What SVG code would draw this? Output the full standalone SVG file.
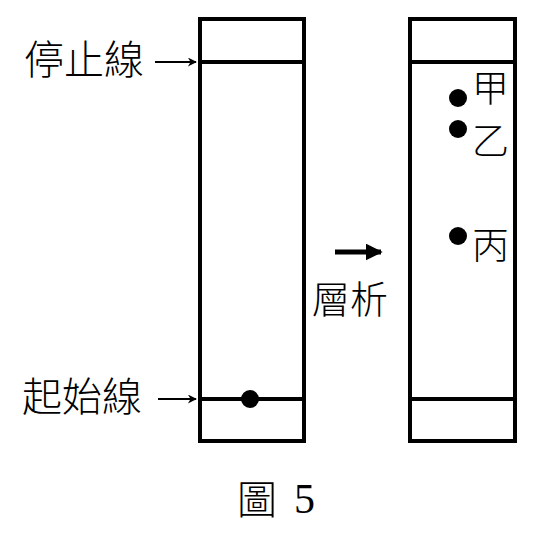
<svg xmlns="http://www.w3.org/2000/svg" width="550" height="539" viewBox="0 0 550 539">
<defs>
<style>
.box{fill:none;stroke:#000;stroke-width:4;stroke-linejoin:miter}
.ln{stroke:#000;stroke-width:4}
.lbl{font-family:"Noto Sans CJK TC","Noto Sans CJK SC",sans-serif;font-weight:300;fill:#000}
.num{font-family:"Liberation Serif","Times New Roman",serif;fill:#000}
.arr{stroke:#000;stroke-width:2;fill:none}
.dot{fill:#000}
</style>
<marker id="ah" viewBox="0 0 10 10" refX="9" refY="5" markerWidth="10" markerHeight="9" markerUnits="userSpaceOnUse" orient="auto">
<path d="M0,0 L10,5 L0,10 L3,5 Z" fill="#000"/>
</marker>
<marker id="ahBig" viewBox="0 0 10 10" refX="9" refY="5" markerWidth="3.4" markerHeight="3.4" orient="auto">
<path d="M0,0 L10,5 L0,10 Z" fill="#000"/>
</marker>
</defs>
<rect width="550" height="539" fill="#fff"/>
<g id="left-strip">
<rect class="box" x="200" y="19" width="104" height="422"/>
<line class="ln" x1="200" y1="62" x2="304" y2="62"/>
<line class="ln" x1="200" y1="399" x2="304" y2="399"/>
<circle class="dot" cx="250" cy="399" r="9"/>
</g>
<g id="right-strip">
<rect class="box" x="410" y="19" width="105" height="422"/>
<line class="ln" x1="410" y1="62" x2="515" y2="62"/>
<line class="ln" x1="410" y1="399" x2="515" y2="399"/>
<circle class="dot" cx="458" cy="98" r="9"/>
<circle class="dot" cx="458" cy="129" r="9"/>
<circle class="dot" cx="458" cy="236" r="9"/>
<text class="lbl" x="472" y="102" font-size="37">甲</text>
<text class="lbl" x="472" y="155" font-size="37">乙</text>
<text class="lbl" x="472" y="259" font-size="37">丙</text>
</g>
<g id="labels">
<text class="lbl" x="24" y="74" font-size="40">停止線</text>
<text class="lbl" x="22" y="411" font-size="40">起始線</text>
<text class="lbl" x="312" y="313" font-size="38">層析</text>
<text class="lbl" x="237" y="514" font-size="40">圖</text>
<text class="num" x="294" y="513" font-size="42">5</text>
</g>
<g id="connectors">
<line class="arr" x1="155" y1="62" x2="196" y2="62" marker-end="url(#ah)"/>
<line class="arr" x1="158" y1="399" x2="196" y2="399" marker-end="url(#ah)"/>
<line x1="335" y1="252" x2="381" y2="252" stroke="#000" stroke-width="5" marker-end="url(#ahBig)"/>
</g>
</svg>
